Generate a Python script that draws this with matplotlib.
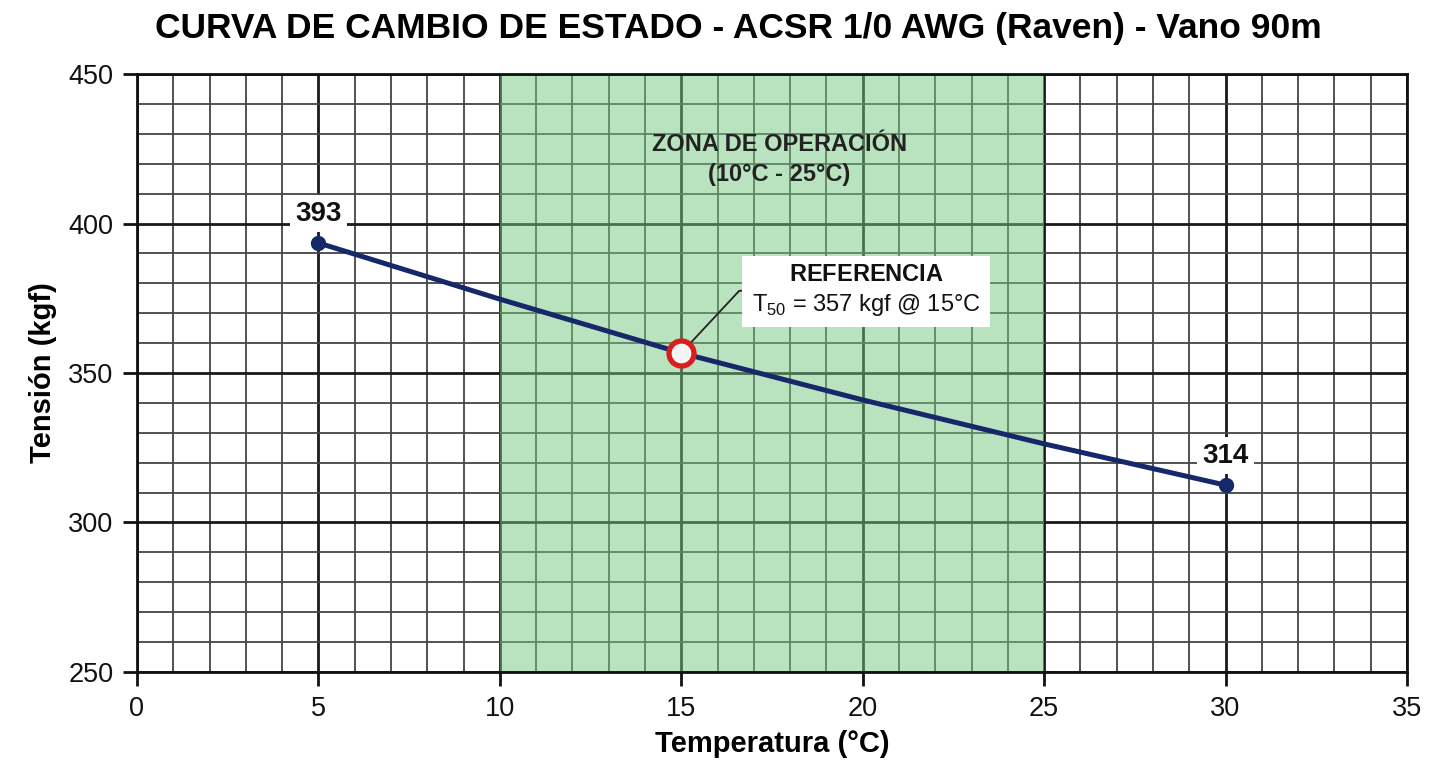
import numpy as np
import matplotlib
matplotlib.use("Agg")
import matplotlib.pyplot as plt

plt.rcParams["font.family"] = ["Liberation Sans", "DejaVu Sans"]
plt.rcParams["mathtext.fontset"] = "custom"
plt.rcParams["mathtext.rm"] = "Liberation Sans"
plt.rcParams["mathtext.bf"] = "Liberation Sans:bold"

# data
temps = [5, 10, 15, 20, 25, 30]
tension = [393.5, 374.7, 356.7, 341.0, 326.3, 312.5]
end_labels = {5: "393", 30: "314"}
ref_temp = 15
ref_tension = 356.7
zone = (10, 25)

title = "CURVA DE CAMBIO DE ESTADO - ACSR 1/0 AWG (Raven) - Vano 90m"
x_ticks = [0, 5, 10, 15, 20, 25, 30, 35]
y_ticks = [250, 300, 350, 400, 450]

navy = "#16286a"

fig = plt.figure(figsize=(14.31, 7.67), dpi=100)
ax = fig.add_axes([0.0957, 0.1239, 0.8875, 0.7796])

ax.set_xlim(0, 35)
ax.set_ylim(250, 450)

# paper-style grid
ax.set_xticks(x_ticks)
ax.set_yticks(y_ticks)
ax.set_xticks(np.arange(0, 36, 1), minor=True)
ax.set_yticks(np.arange(250, 451, 10), minor=True)
ax.grid(which="minor", color="#444444", linewidth=1.3, zorder=0)
ax.grid(which="major", color="#1a1a1a", linewidth=2.0, zorder=0)
ax.set_axisbelow(True)

# operating zone
ax.axvspan(zone[0], zone[1], color="#74c67e", alpha=0.5, zorder=1, linewidth=0)
ax.text(17.7, 421.5, "ZONA DE OPERACIÓN\n(10°C - 25°C)", ha="center", va="center",
        fontsize=17, fontweight="bold", color="#222222", linespacing=1.4, zorder=3)

# curve
ax.plot(temps, tension, color=navy, linewidth=3.6, zorder=4, solid_capstyle="round")
ax.plot([temps[0], temps[-1]], [tension[0], tension[-1]], "o", color=navy,
        markersize=10, zorder=5)

for t, lbl in end_labels.items():
    v = tension[temps.index(t)]
    ax.annotate(lbl, xy=(t, v), xytext=(0, 21), textcoords="offset points",
                ha="center", va="center", fontsize=20, fontweight="bold",
                color="#111111", zorder=6,
                bbox=dict(boxstyle="square,pad=0.2", fc="white", ec="none"))

# reference point
ax.plot([ref_temp], [ref_tension], "o", markersize=18, markerfacecolor="#f4f4f4",
        markeredgecolor="#d81e1e", markeredgewidth=3.8, zorder=7)
ax.annotate(r"$\bf{REFERENCIA}$" + "\nT$_{50}$ = 357 kgf @ 15°C",
            xy=(ref_temp, ref_tension), xytext=(20.1, 377.5),
            ha="center", va="center", fontsize=17, color="#111111",
            linespacing=1.3, zorder=6,
            bbox=dict(boxstyle="square,pad=0.4", fc="white", ec="none"),
            arrowprops=dict(arrowstyle="-", color="#222222", lw=1.3,
                            shrinkA=0, shrinkB=10,
                            connectionstyle="angle,angleA=180,angleB=47,rad=0"))

for s in ax.spines.values():
    s.set_color("#111111")
    s.set_linewidth(2.0)
ax.tick_params(which="major", direction="out", length=10, width=2.0,
               labelsize=19.5, colors="#111111", pad=7)
ax.tick_params(which="minor", length=0)

ax.set_xlabel("Temperatura (°C)", fontsize=21, fontweight="bold", labelpad=6)
ax.set_ylabel("Tensión (kgf)", fontsize=21, fontweight="bold", labelpad=8)
fig.suptitle(title, x=0.516, y=0.985, fontsize=25.5, fontweight="bold")

fig.savefig("out.png", dpi=100, facecolor="white")
